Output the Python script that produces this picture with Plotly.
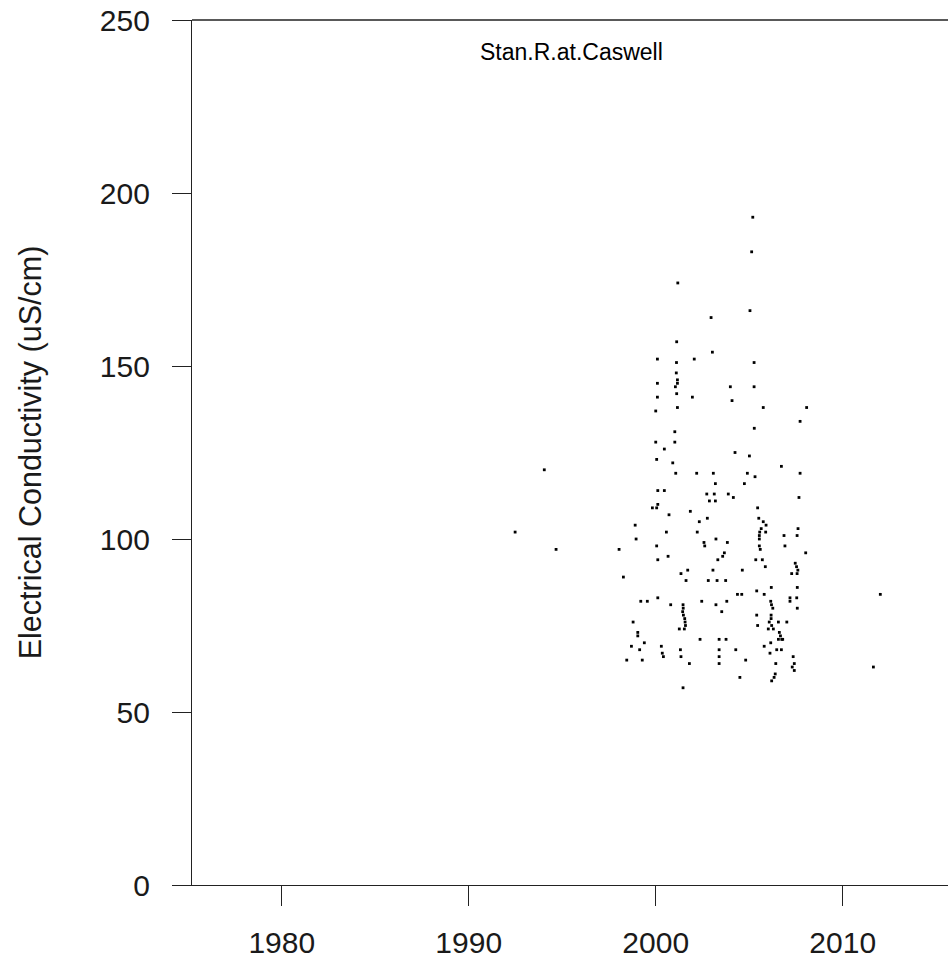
import plotly.graph_objects as go

# Sample dates (decimal years) and electrical conductivity (uS/cm)
years = [
    1992.48, 1994.04, 1994.67, 1998.04, 1998.27, 1998.45, 1998.70, 1998.79, 1998.90, 1998.95,
    1999.04, 1999.04, 1999.14, 1999.20, 1999.28, 1999.39, 1999.55, 1999.82, 2000.00, 2000.00,
    2000.05, 2000.05, 2000.05, 2000.09, 2000.09, 2000.09, 2000.11, 2000.11, 2000.11, 2000.11,
    2000.30, 2000.35, 2000.41, 2000.46, 2000.46, 2000.57, 2000.66, 2000.71, 2000.80, 2000.91,
    2001.02, 2001.02, 2001.05, 2001.07, 2001.10, 2001.11, 2001.16, 2001.16, 2001.12, 2001.16,
    2001.12, 2001.18, 2001.26, 2001.32, 2001.35, 2001.35, 2001.44, 2001.46, 2001.47, 2001.48,
    2001.46, 2001.53, 2001.57, 2001.55, 2001.59, 2001.62, 2001.71, 2001.80, 2001.85, 2001.96,
    2002.06, 2002.19, 2002.22, 2002.33, 2002.37, 2002.46, 2002.58, 2002.62, 2002.73, 2002.76,
    2002.81, 2002.87, 2002.96, 2003.03, 2003.08, 2003.06, 2003.13, 2003.19, 2003.19, 2003.22,
    2003.22, 2003.28, 2003.32, 2003.39, 2003.39, 2003.39, 2003.39, 2003.53, 2003.58, 2003.67,
    2003.74, 2003.76, 2003.80, 2003.83, 2003.88, 2003.99, 2004.08, 2004.15, 2004.24, 2004.28,
    2004.37, 2004.50, 2004.60, 2004.63, 2004.74, 2004.81, 2004.90, 2005.01, 2005.04, 2005.13,
    2005.19, 2005.26, 2005.26, 2005.27, 2005.31, 2005.35, 2005.40, 2005.40, 2005.45, 2005.45,
    2005.51, 2005.54, 2005.54, 2005.56, 2005.54, 2005.59, 2005.64, 2005.70, 2005.75, 2005.75,
    2005.80, 2005.80, 2005.86, 2005.88, 2005.90, 2006.02, 2006.07, 2006.11, 2006.15, 2006.19,
    2006.26, 2006.15, 2006.17, 2006.17, 2006.18, 2006.20, 2006.20, 2006.29, 2006.33, 2006.39,
    2006.42, 2006.47, 2006.56, 2006.56, 2006.61, 2006.67, 2006.74, 2006.72, 2006.72, 2006.79,
    2006.86, 2006.91, 2007.01, 2007.18, 2007.18, 2007.27, 2007.30, 2007.35, 2007.41, 2007.41,
    2007.46, 2007.53, 2007.60, 2007.54, 2007.56, 2007.56, 2007.57, 2007.57, 2007.61, 2007.66,
    2007.72, 2007.72, 2008.02, 2008.07, 2011.64, 2012.01,
]
ec = [
    102, 120, 97, 97, 89, 65, 69, 76, 104, 100,
    73, 72, 68, 82, 65, 70, 82, 109, 128, 137,
    123, 109, 98, 152, 145, 141, 114, 110, 94, 83,
    69, 67, 66, 126, 114, 102, 95, 107, 81, 122,
    131, 128, 144, 119, 148, 151, 146, 145, 142, 138,
    157, 174, 74, 68, 90, 66, 79, 81, 80, 78,
    57, 74, 76, 77, 75, 88, 91, 64, 108, 141,
    152, 119, 102, 105, 71, 82, 99, 98, 113, 106,
    88, 111, 164, 154, 119, 91, 113, 116, 111, 100,
    81, 88, 94, 71, 68, 66, 64, 79, 95, 96,
    88, 71, 82, 99, 113, 144, 140, 112, 125, 68,
    84, 60, 84, 91, 116, 65, 119, 124, 166, 183,
    193, 151, 144, 132, 118, 94, 85, 78, 109, 75,
    106, 101, 100, 102, 98, 97, 103, 94, 138, 105,
    84, 69, 92, 102, 104, 74, 76, 67, 82, 81,
    80, 70, 78, 77, 86, 75, 59, 74, 60, 61,
    64, 68, 76, 71, 73, 72, 71, 68, 121, 71,
    101, 98, 76, 83, 82, 90, 63, 66, 64, 62,
    93, 92, 91, 83, 90, 101, 86, 80, 103, 112,
    119, 134, 96, 138, 63, 84,
]

station = "Stan.R.at.Caswell"
y_title = "Electrical Conductivity (uS/cm)"
x_ticks = [1980, 1990, 2000, 2010]
y_ticks = [0, 50, 100, 150, 200, 250]

FONT = "Liberation Sans, Arial, sans-serif"
AXC = "#222222"
TXC = "#1a1a1a"

fig = go.Figure()
fig.add_trace(go.Scatter(
    x=years, y=ec, mode="markers",
    marker=dict(symbol="square", size=2.8, color="black", line=dict(width=0)),
    showlegend=False, hoverinfo="x+y",
))

fig.add_annotation(
    x=1995.5, y=240.8, xref="x", yref="y", text=station, showarrow=False,
    font=dict(family=FONT, size=23, color="black"), xanchor="center", yanchor="middle",
)

# top border of the plotting box
fig.add_shape(type="line", xref="paper", yref="paper", x0=0, x1=1, y0=1, y1=1,
              line=dict(color=AXC, width=1.3))

fig.update_layout(
    width=948, height=964,
    margin=dict(l=192, r=0, t=20, b=79),
    paper_bgcolor="white", plot_bgcolor="white",
    font=dict(family=FONT, size=30, color=TXC),
    xaxis=dict(
        range=[1975.2, 2015.63], tickvals=x_ticks, ticktext=[str(v) for v in x_ticks],
        showgrid=False, zeroline=False, showline=True, linecolor=AXC, linewidth=1.3,
        ticks="outside", ticklen=20, tickwidth=1.3, tickcolor=AXC,
        tickfont=dict(family=FONT, size=30, color=TXC), ticklabelstandoff=11,
        ticklabeloverflow="allow", automargin=False,
    ),
    yaxis=dict(
        range=[0, 250], tickvals=y_ticks, ticktext=[str(v) for v in y_ticks],
        showgrid=False, zeroline=False, showline=True, linecolor=AXC, linewidth=1.3,
        ticks="outside", ticklen=19, tickwidth=1.3, tickcolor=AXC,
        tickfont=dict(family=FONT, size=30, color=TXC), ticklabelstandoff=16,
        ticklabeloverflow="allow", automargin=False,
        title=dict(text=y_title, font=dict(family=FONT, size=30.5, color=TXC), standoff=49),
    ),
)

fig.write_html(
    "out.html",
    config={"displayModeBar": False},
    post_script="document.body.style.margin='0';document.body.style.overflow='hidden';",
)
